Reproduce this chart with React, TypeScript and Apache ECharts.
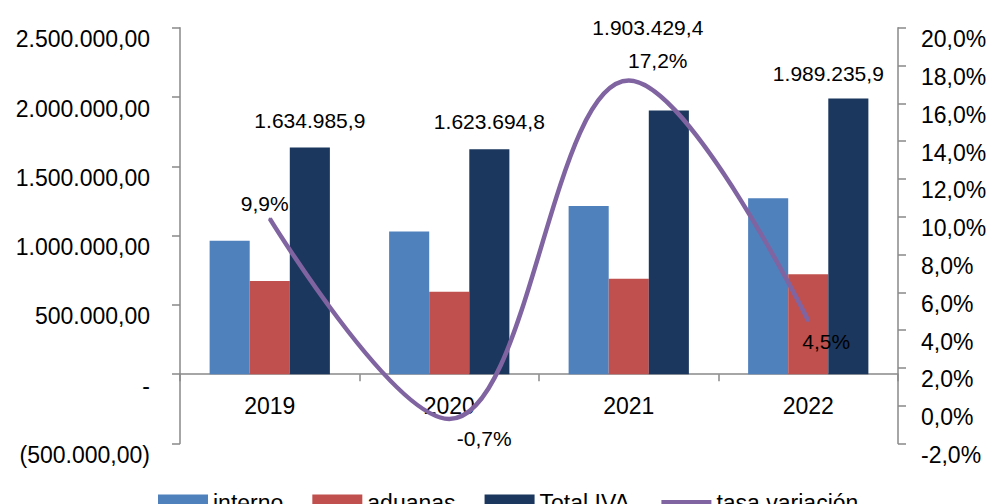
import React, { useEffect, useRef } from "react";
import * as echarts from "echarts";

const categories = ["2019", "2020", "2021", "2022"];
const interno = [962000, 1030000, 1214000, 1269000];
const aduanas = [673000, 594000, 689000, 721000];
const totalIva = [1634985.9, 1623694.8, 1903429.4, 1989235.9];
const tasaVariacion = [9.9, -0.7, 17.2, 4.5];
const seriesNames = ["interno", "aduanas", "Total IVA", "tasa variación"];

const totalLabelOffsets = [[0, 0], [0, 0], [-21, -55], [-20, 3]];
const lineLabelOffsets = [[-5, -15], [35, 20], [29, -20], [18, 21]];

const FONT = "'Liberation Sans', Arial, sans-serif";
const AXIS_COLOR = "#898989";
const LINE_COLOR = "#8064A2";

function fmtThousands(v: number, decimals: number): string {
  const neg = v < 0;
  const abs = Math.abs(v);
  const fixed = abs.toFixed(decimals);
  const [intPart, dec] = fixed.split(".");
  const withDots = intPart.replace(/\B(?=(\d{3})+(?!\d))/g, ".");
  const s = dec !== undefined ? withDots + "," + dec : withDots;
  return neg ? "-" + s : s;
}

function leftAxisFmt(v: number): string {
  if (v === 0) return "-";
  if (v < 0) return "(" + fmtThousands(-v, 2) + ")";
  return fmtThousands(v, 2);
}

export default function App() {
  const ref = useRef<HTMLDivElement>(null);
  useEffect(() => {
    if (!ref.current) return;
    const chart = echarts.init(ref.current, undefined, { renderer: "svg" });
    const option: any = {
      animation: false,
      backgroundColor: "#ffffff",
      textStyle: { fontFamily: FONT },
      grid: { left: 180, right: 93, top: 27.7, bottom: 60.5 },
      legend: {
        left: 153,
        top: 486,
        itemWidth: 50,
        itemHeight: 16,
        itemGap: 29,
        textStyle: { fontSize: 23, color: "#000", fontFamily: FONT },
        data: [
          { name: seriesNames[0], icon: "rect" },
          { name: seriesNames[1], icon: "rect" },
          { name: seriesNames[2], icon: "rect" },
          { name: seriesNames[3], itemStyle: { opacity: 0 }, lineStyle: { width: 5, color: LINE_COLOR } },
        ],
      },
      xAxis: {
        type: "category",
        data: categories,
        axisLine: { onZero: true, lineStyle: { color: AXIS_COLOR, width: 1.5 } },
        axisTick: { show: true, length: 7, interval: 0, lineStyle: { color: AXIS_COLOR, width: 1.5 } },
        axisLabel: { fontSize: 23, color: "#000", margin: -49, fontFamily: FONT },
        splitLine: { show: false },
      },
      yAxis: [
        {
          type: "value",
          min: -500000,
          max: 2500000,
          interval: 500000,
          axisLine: { show: true, lineStyle: { color: AXIS_COLOR, width: 1.5 } },
          axisTick: { show: true, length: 8, lineStyle: { color: AXIS_COLOR, width: 1.5 } },
          axisLabel: {
            fontSize: 23,
            color: "#000",
            margin: 30,
            verticalAlign: "top",
            fontFamily: FONT,
            formatter: (v: number) => leftAxisFmt(v),
          },
          splitLine: { show: false },
        },
        {
          type: "value",
          min: -2,
          max: 20,
          interval: 2,
          axisLine: { show: true, lineStyle: { color: AXIS_COLOR, width: 1.5 } },
          axisTick: { show: true, length: 8, lineStyle: { color: AXIS_COLOR, width: 1.5 } },
          axisLabel: {
            fontSize: 23,
            color: "#000",
            margin: 23,
            verticalAlign: "top",
            fontFamily: FONT,
            formatter: (v: number) => v.toFixed(1).replace(".", ",") + "%",
          },
          splitLine: { show: false },
        },
      ],
      series: [
        {
          name: seriesNames[0],
          type: "bar",
          data: interno,
          barGap: "0%",
          barCategoryGap: "33%",
          itemStyle: { color: "#4F81BD" },
        },
        {
          name: seriesNames[1],
          type: "bar",
          data: aduanas,
          barGap: "0%",
          barCategoryGap: "33%",
          itemStyle: { color: "#C0504D" },
        },
        {
          name: seriesNames[2],
          type: "bar",
          barGap: "0%",
          barCategoryGap: "33%",
          itemStyle: { color: "#1B375E" },
          z: 3,
          data: totalIva.map((v, i) => ({
            value: v,
            label: {
              show: true,
              position: "top",
              distance: 17,
              offset: totalLabelOffsets[i],
              fontSize: 21,
              color: "#000",
              fontFamily: FONT,
              formatter: (p: any) => fmtThousands(p.value, 1),
            },
          })),
        },
        {
          name: seriesNames[3],
          type: "line",
          yAxisIndex: 1,
          smooth: 0.38,
          symbol: "circle",
          symbolSize: 2,
          z: 4,
          itemStyle: { color: LINE_COLOR },
          lineStyle: { color: LINE_COLOR, width: 4.5 },
          data: tasaVariacion.map((v, i) => ({
            value: v,
            label: {
              show: true,
              position: "inside",
              offset: lineLabelOffsets[i],
              fontSize: 21,
              color: "#000",
              fontFamily: FONT,
              formatter: (p: any) => p.value.toFixed(1).replace(".", ",") + "%",
            },
          })),
        },
      ],
    };
    chart.setOption(option);
    return () => chart.dispose();
  }, []);
  return (
    <div
      ref={ref}
      style={{ position: "fixed", left: 0, top: 0, width: 991, height: 504, background: "#fff" }}
    />
  );
}
